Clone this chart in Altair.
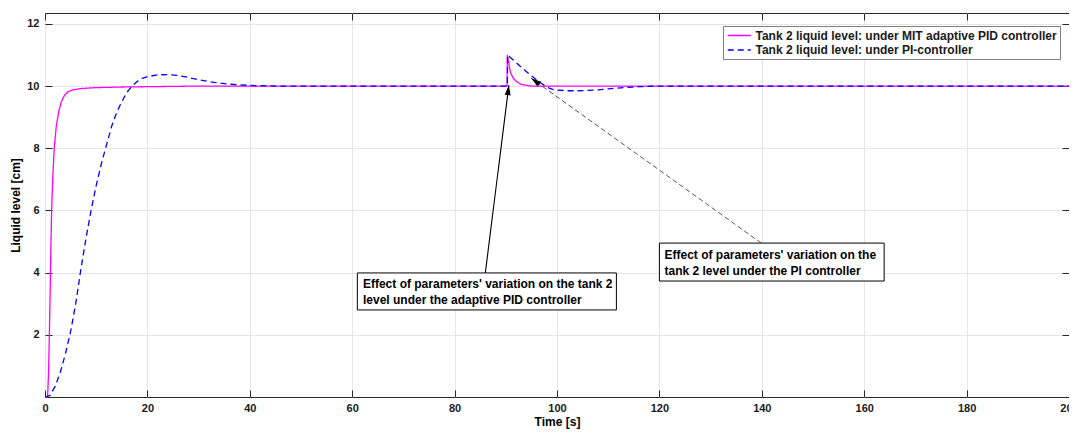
import altair as alt
import pandas as pd

# ---------------- data ----------------
series_names = ["Tank 2 liquid level: under MIT adaptive PID controller",
                "Tank 2 liquid level: under PI-controller"]
series_colors = ["#ff00ff", "#0000ff"]

t_mit = [0, 0.5, 0.7, 0.85, 1.0, 1.15, 1.3, 1.5, 1.8, 2.2, 2.7, 3.2, 3.8, 4.5, 5.5,
         7, 10, 15, 20, 30, 90.25, 90.3, 90.5, 90.9, 91.4, 91.9, 92.9, 94.8, 100, 200]
y_mit = [0, 0, 0.8, 2, 3.3, 4.8, 6, 7, 8, 8.7, 9.2, 9.5, 9.7, 9.82, 9.88,
         9.92, 9.95, 9.97, 9.98, 10, 10, 11.0, 10.8, 10.44, 10.27, 10.17, 10.06, 10.0, 10.0, 10.0]

t_pi = [0, 1, 2, 3, 4, 5, 6, 7, 8, 9, 10, 11, 12, 13, 14, 15, 16, 17, 18, 19, 20,
        22, 24, 26, 28, 30, 33, 36, 40, 45, 90.3, 90.35, 91, 92, 93, 94, 95, 96, 97,
        98, 99, 100, 102, 104, 106, 108, 110, 113, 116, 120, 200]
y_pi = [0, 0.05, 0.35, 0.8, 1.4, 2.1, 3.0, 4.1, 5.1, 6.0, 6.8, 7.5, 8.1, 8.7, 9.15,
        9.5, 9.8, 10.0, 10.15, 10.25, 10.3, 10.36, 10.37, 10.34, 10.28, 10.2, 10.12,
        10.06, 10.02, 10.0, 10.0, 11.0, 10.9, 10.76, 10.61, 10.47, 10.33, 10.2, 10.08,
        9.97, 9.9, 9.87, 9.85, 9.85, 9.86, 9.88, 9.91, 9.95, 9.98, 10.0, 10.0]

x_ticks = [0, 20, 40, 60, 80, 100, 120, 140, 160, 180, 200]
y_ticks = [2, 4, 6, 8, 10, 12]
x_domain = [0, 200]
y_domain = [0, 12.35]
x_title = "Time [s]"
y_title = "Liquid level [cm]"

note_line1 = ["Effect of parameters' variation on the tank 2",
              "Effect of parameters' variation on the"]
note_line2 = ["level under the adaptive PID controller",
              "tank 2 level under the PI controller"]
note_box_x1 = [61.0, 120.0]
note_box_x2 = [111.6, 163.9]
note_box_y1 = [2.80, 3.73]
note_box_y2 = [3.99, 4.95]
note_text_x = [62.1, 121.0]
note_text_y1 = [3.63, 4.57]
note_text_y2 = [3.12, 4.05]
arrow_x_from = [86.0, 139.9]
arrow_y_from = [3.99, 4.95]
arrow_x_to = [90.6, 94.96]
arrow_y_to = [10.03, 10.25]
arrow_angle = [7.1, 305.7]

# ---------------- tables ----------------
lines_df = pd.concat([
    pd.DataFrame({"t": t_mit, "y": y_mit, "series": series_names[0], "o": range(len(t_mit))}),
    pd.DataFrame({"t": t_pi, "y": y_pi, "series": series_names[1], "o": range(len(t_pi))}),
], ignore_index=True)

box_df = pd.DataFrame({"x1": note_box_x1, "x2": note_box_x2, "y1": note_box_y1, "y2": note_box_y2})
text_df = pd.DataFrame({
    "x": note_text_x * 2,
    "y": note_text_y1 + note_text_y2,
    "label": note_line1 + note_line2,
})
arrow_df = pd.DataFrame({"x1": arrow_x_from, "y1": arrow_y_from,
                         "x2": arrow_x_to, "y2": arrow_y_to, "ang": arrow_angle})

W, H = 1024, 384
FONT = "Liberation Sans"
XS = alt.Scale(domain=x_domain, nice=False, zero=False)
YS = alt.Scale(domain=y_domain, nice=False, zero=False)

tick_common = dict(labels=False, ticks=True, tickSize=7, tickColor="#262626",
                   tickWidth=1, grid=False, domain=False, title=None)

main_x = alt.Axis(values=x_ticks, title=x_title, grid=True, gridColor="#e6e6e6",
                  ticks=False, tickSize=0, domain=False, labelPadding=5,
                  titlePadding=3, labelFlush=False)
main_y = alt.Axis(values=y_ticks, title=y_title, grid=True, gridColor="#e6e6e6",
                  ticks=False, tickSize=0, domain=False, labelPadding=6,
                  titlePadding=4)

legend = alt.Legend(title=None, orient="none", legendX=678, legendY=13,
                    fillColor="white", strokeColor="#7f7f7f", padding=3,
                    symbolType="M-2,0H2", symbolSize=132, symbolStrokeWidth=1.5,
                    symbolOffset=6.75, labelOffset=9.75, rowPadding=1.5,
                    labelFont=FONT, labelFontSize=12, labelFontWeight="bold",
                    labelColor="#1a1a1a", labelLimit=400)

lines = alt.Chart(lines_df).mark_line(strokeWidth=1.3).encode(
    x=alt.X("t:Q", scale=XS, axis=main_x),
    y=alt.Y("y:Q", scale=YS, axis=main_y),
    color=alt.Color("series:N", scale=alt.Scale(domain=series_names, range=series_colors), legend=legend),
    strokeDash=alt.StrokeDash("series:N", scale=alt.Scale(domain=series_names, range=[[1, 0], [6, 4]]), legend=legend),
    order="o:Q",
)

arrow_solid = alt.Chart(arrow_df.iloc[[0]]).mark_rule(color="#000000", strokeWidth=1.1).encode(
    x=alt.X("x1:Q", scale=XS, axis=None), y=alt.Y("y1:Q", scale=YS, axis=None),
    x2="x2:Q", y2="y2:Q")
arrow_dash = alt.Chart(arrow_df.iloc[[1]]).mark_rule(color="#404040", strokeWidth=0.9, strokeDash=[5, 3]).encode(
    x=alt.X("x1:Q", scale=XS, axis=None), y=alt.Y("y1:Q", scale=YS, axis=None),
    x2="x2:Q", y2="y2:Q")
heads = alt.Chart(arrow_df).mark_point(shape="M0,0L-0.6,2L0.6,2Z", filled=True, size=100,
                                       color="#000000", opacity=1).encode(
    x=alt.X("x2:Q", scale=XS, axis=None), y=alt.Y("y2:Q", scale=YS, axis=None),
    angle=alt.Angle("ang:Q", scale=None))

boxes = alt.Chart(box_df).mark_rect(fill="white", stroke="#000000", strokeWidth=1).encode(
    x=alt.X("x1:Q", scale=XS, axis=alt.Axis(orient="top", offset=-H, values=x_ticks, **tick_common)),
    x2="x2:Q",
    y=alt.Y("y1:Q", scale=YS, axis=alt.Axis(orient="right", offset=-W, values=y_ticks, **tick_common)),
    y2="y2:Q")

texts = alt.Chart(text_df).mark_text(align="left", baseline="middle", font=FONT, fontSize=12,
                                     fontWeight="bold", color="#000000").encode(
    x=alt.X("x:Q", scale=XS, axis=alt.Axis(orient="bottom", offset=-H, values=x_ticks, **tick_common)),
    y=alt.Y("y:Q", scale=YS, axis=alt.Axis(orient="left", offset=-W, values=y_ticks, **tick_common)),
    text="label:N")

chart = alt.layer(lines, arrow_solid, arrow_dash, heads, boxes, texts).resolve_axis(
    x="independent", y="independent"
).properties(
    width=W, height=H,
    autosize=alt.AutoSizeParams(type="none"),
    padding={"left": 37, "top": 5, "right": 0, "bottom": 33},
    background="white",
).configure_view(
    stroke="#262626", strokeWidth=1
).configure_axis(
    labelFont=FONT, labelFontSize=11, labelFontWeight="bold", labelColor="#1a1a1a",
    titleFont=FONT, titleFontSize=12, titleFontWeight="bold", titleColor="#000000",
)

chart.save("out.html", embed_options={"renderer": "svg", "actions": False})
